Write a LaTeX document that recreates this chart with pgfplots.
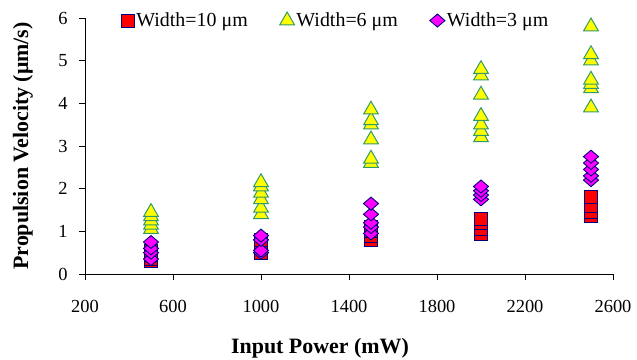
\documentclass[border=0pt]{standalone}
\usepackage{pgfplots}
\pgfplotsset{compat=1.18}
\usetikzlibrary{calc}
\usepackage{fontspec}
\setmainfont{Liberation Serif}
\definecolor{navyb}{RGB}{0,0,128}
\definecolor{triedge}{RGB}{51,153,102}
\definecolor{pred}{RGB}{255,0,0}
\definecolor{pyellow}{RGB}{255,255,0}
\definecolor{pmagenta}{RGB}{255,0,255}
\begin{document}
\begin{tikzpicture}
\begin{axis}[
  name=ax,
  scale only axis,
  width=528bp, height=256bp,
  xmin=200, xmax=2600, ymin=0, ymax=6,
  xtick={200,600,...,2600}, ytick={0,1,...,6},
  axis x line*=bottom, axis y line*=left,
  tick align=outside,
  major tick length=6bp,
  tick style={black, line width=0.6pt},
  axis line style={black, line width=0.8pt},
  /pgf/number format/assume math mode=true,
  /pgf/number format/1000 sep={},
  tick label style={font=\fontsize{18.5}{20}\selectfont},
  xticklabel style={yshift=-17bp},
  yticklabel style={xshift=-8bp},
  xlabel={\textbf{Input Power (mW)}},
  ylabel={\textbf{Propulsion Velocity (μm/s)}},
  label style={font=\fontsize{22}{24}\selectfont},
  xlabel style={at={(axis description cs:0.5,0)}, anchor=center, yshift=-74bp, xshift=-29bp},
  ylabel style={at={(axis description cs:0,0.5)}, anchor=center, xshift=0bp, yshift=62bp},
  legend style={draw=none, fill=none, at={(axis description cs:0.063,0.99)}, anchor=west,
    font=\fontsize{20}{22}\selectfont, /tikz/every even column/.append style={column sep=30bp},
    /tikz/every odd column/.append style={column sep=0bp}},
  legend columns=3,
  legend cell align=left,
  clip=false,
]
\addplot[only marks, mark=square*, mark size=6.5bp, mark options={fill=pred, draw=navyb, line width=0.9pt}]
  coordinates {
  (500,0.30) (500,0.35) (500,0.45) (500,0.55)
  (1000,0.50) (1000,0.60) (1000,0.70) (1000,0.80)
  (1500,0.80) (1500,0.90) (1500,1.00) (1500,1.10)
  (2000,0.95) (2000,1.05) (2000,1.20) (2000,1.30)
  (2500,1.35) (2500,1.45) (2500,1.60) (2500,1.80)
  };
\addlegendentry{Width=10 μm}
\addplot[only marks, mark=triangle*, mark size=8.5bp, mark options={fill=pyellow, draw=triedge, line width=1pt}]
  coordinates {
  (500,1.05) (500,1.15) (500,1.25) (500,1.35) (500,1.45)
  (1000,1.40) (1000,1.55) (1000,1.75) (1000,1.90) (1000,2.05) (1000,2.15)
  (1500,2.60) (1500,2.70) (1500,3.15) (1500,3.50) (1500,3.60) (1500,3.85)
  (2000,3.20) (2000,3.35) (2000,3.50) (2000,3.70) (2000,4.20) (2000,4.65) (2000,4.80)
  (2500,3.90) (2500,4.35) (2500,4.45) (2500,4.55) (2500,5.00) (2500,5.15) (2500,5.80)
  };
\addlegendentry{Width=6 μm}
\addplot[only marks, mark=diamond*, mark size=6.5bp, mark options={xscale=1.55, fill=pmagenta, draw=navyb, line width=0.9pt}]
  coordinates {
  (500,0.35) (500,0.50) (500,0.60) (500,0.75)
  (1000,0.50) (1000,0.55) (1000,0.80) (1000,0.90)
  (1500,0.95) (1500,1.10) (1500,1.20) (1500,1.40) (1500,1.65)
  (2000,1.75) (2000,1.85) (2000,1.95) (2000,2.05)
  (2500,2.20) (2500,2.30) (2500,2.45) (2500,2.60) (2500,2.75)
  };
\addlegendentry{Width=3 μm}
\end{axis}
\pgfresetboundingbox
\useasboundingbox ($(ax.south west)+(-85bp,-86bp)$) rectangle ($(ax.south west)+(552bp,274bp)$);
\end{tikzpicture}
\end{document}
